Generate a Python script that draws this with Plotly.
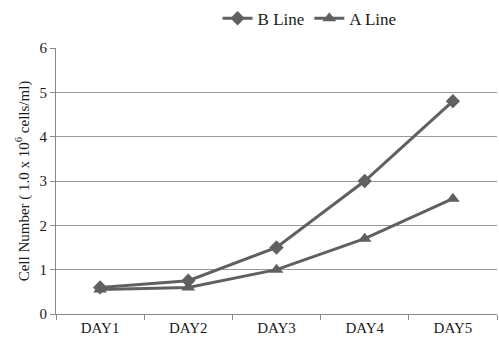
import plotly.graph_objects as go

days = ["DAY1", "DAY2", "DAY3", "DAY4", "DAY5"]
b_line = [0.6, 0.75, 1.5, 3.0, 4.8]
a_line = [0.55, 0.6, 1.0, 1.7, 2.6]
y_ticks = [0, 1, 2, 3, 4, 5, 6]

col = "#606060"
txt = "#1a1a1a"
serif = "Liberation Serif"

fig = go.Figure()
fig.add_trace(go.Scatter(x=days, y=b_line, name="B Line", mode="lines+markers",
                         line=dict(color=col, width=3),
                         marker=dict(symbol="diamond", size=11, color=col)))
fig.add_trace(go.Scatter(x=days, y=a_line, name="A Line", mode="lines+markers",
                         line=dict(color=col, width=3),
                         marker=dict(symbol="triangle-up", size=12, color=col)))

fig.update_layout(
    width=499, height=340,
    margin=dict(l=56, r=2, t=48, b=26),
    paper_bgcolor="white", plot_bgcolor="white",
    font=dict(family=serif, size=15, color=txt),
    showlegend=True,
    legend=dict(orientation="h", x=0.575, xanchor="center", y=0.945, yanchor="middle",
                yref="container",
                font=dict(family=serif, size=17, color=txt)),
    xaxis=dict(type="category", range=[-0.5, 4.5], showgrid=False,
               showline=True, linecolor="#888888", linewidth=1,
               ticks="outside", tickson="boundaries", ticklen=5, tickcolor="#888888",
               tickfont=dict(family=serif, size=15, color=txt)),
    yaxis=dict(range=[0, 6], tickvals=y_ticks, showgrid=True, gridcolor="#999999", gridwidth=1,
               showline=True, linecolor="#888888", linewidth=1,
               ticks="outside", ticklen=5, tickcolor="#888888", zeroline=False,
               tickfont=dict(family=serif, size=15, color=txt),
               title=dict(text="Cell Number ( 1.0 x 10<sup>6</sup> cells/ml)",
                          font=dict(family=serif, size=15, color=txt),
                          standoff=6)),
)

fig.write_html("out.html", config={"displayModeBar": False},
               post_script="document.body.style.margin='0';")
